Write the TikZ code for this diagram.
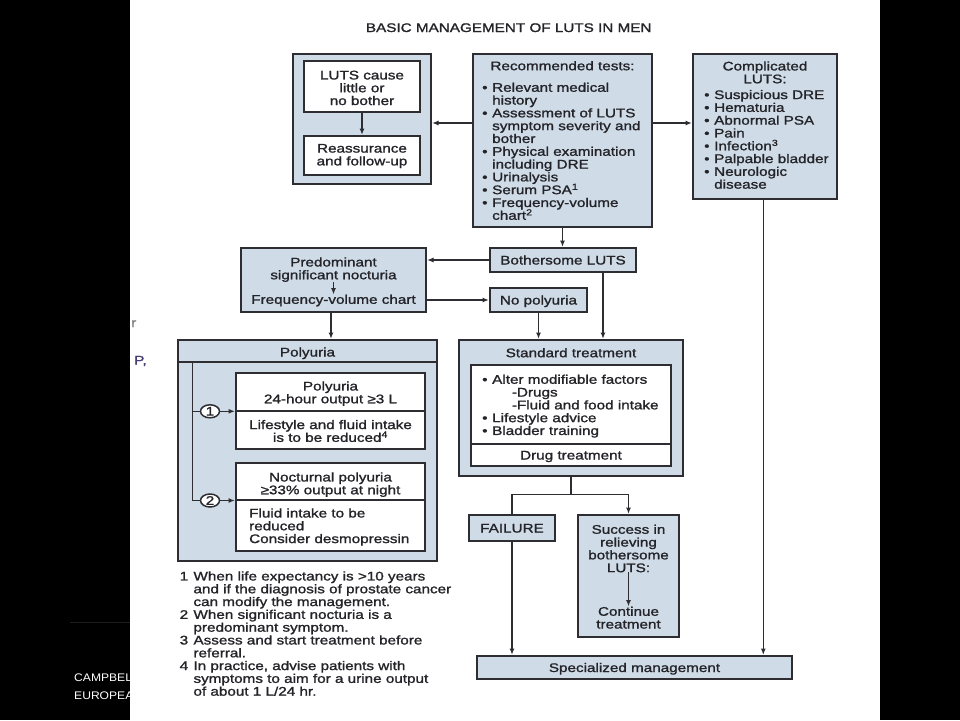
\documentclass[tikz,border=0pt]{standalone}
\usepackage{fontspec}
\setmainfont{Liberation Sans}[FakeStretch=1.22, FakeBold=1.3]
\newfontfamily\slidefont{Liberation Sans}[FakeStretch=1.1]
\usepackage{xcolor}
\usetikzlibrary{arrows.meta, positioning, shapes.geometric}
\definecolor{boxfill}{RGB}{207,220,232}
\definecolor{boxline}{RGB}{45,45,50}
\definecolor{ink}{RGB}{35,35,40}
\definecolor{fragc}{RGB}{72,62,118}
\newcommand{\fsz}{\fontsize{12.5}{12.8}\selectfont}
\newcommand{\bitem}{\makebox[10pt][l]{\textbullet}}
\newcommand{\bcont}{\hspace*{10pt}}
\newcommand{\fnum}[1]{\makebox[13.8pt][l]{#1}}
\newcommand{\supnum}[1]{\smash{\textsuperscript{#1}}}

\begin{document}
\begin{tikzpicture}[
    x=1pt, y=-1pt,
    panel/.style={draw=boxline, fill=boxfill, line width=2pt, inner sep=0pt},
    whitebox/.style={draw=boxline, fill=white, line width=2pt, inner sep=0pt},
    single/.style={panel, font=\fsz, text=ink, text height=9pt, text depth=0pt},
    txt/.style={font=\fsz, text=ink, align=center, inner sep=0pt},
    list/.style={font=\fsz, text=ink, align=left, inner sep=0pt, anchor=north west},
    num/.style={ellipse, draw=boxline, fill=white, line width=1.5pt, minimum width=19pt, minimum height=13pt, inner sep=0pt, font=\fsz, text=ink},
    line/.style={draw=boxline, line width=1.4pt, -{Latex[length=6.5pt, width=5pt]}},
    link/.style={draw=boxline, line width=1.4pt},
    divider/.style={draw=boxline, line width=2pt}
]

% Slide
\useasboundingbox (0,0) rectangle (960,720);
\fill[black] (0,0) rectangle (960,720);
\draw[gray!22!black, line width=1pt] (70,622) -- (130,622);
\node[font=\slidefont\fontsize{11}{17.7}\selectfont, text=white, align=left, anchor=north west, inner sep=0pt] (source) at (74,674) {CAMPBEL\\EUROPEA};
\fill[white] (130,0) rectangle (880,720);
\node[txt, text=gray, anchor=base west] (fragr) at (131,327) {r};
\node[txt, text=fragc, anchor=base west] (fragp) at (134,364.5) {P,};

\node[txt] (title) at (508.7,27.7) {BASIC MANAGEMENT OF LUTS IN MEN};

% Nodes
\node[panel, minimum width=138pt, minimum height=130pt] (lbox) at (362,119) {};
\node[whitebox, minimum width=116pt, minimum height=51pt] (little) at (362,86.5) {};
\node[txt, anchor=north] (littlet) at (362,70.5) {LUTS cause\\little or\\no bother};
\node[whitebox, minimum width=116pt, minimum height=39pt] (reassure) at (362,155.5) {};
\node[txt, anchor=north] (reassuret) at (362,143.8) {Reassurance\\and follow-up};

\node[panel, minimum width=179pt, minimum height=173pt] (tests) at (562.5,140.5) {};
\node[txt, anchor=base] (testst) at (562.5,70.2) {Recommended tests:};
\node[list] (testsl) at (482,82.5) {\bitem Relevant medical\\\bcont history\\\bitem Assessment of LUTS\\\bcont symptom severity and\\\bcont bother\\\bitem Physical examination\\\bcont including DRE\\\bitem Urinalysis\\\bitem Serum PSA\supnum{1}\\\bitem Frequency-volume\\\bcont chart\supnum{2}};

\node[panel, minimum width=144pt, minimum height=145pt] (compl) at (765,126.5) {};
\node[txt, anchor=north] (complt) at (765,61.2) {Complicated\\LUTS:};
\node[list] (compll) at (704,89.8) {\bitem Suspicious DRE\\\bitem Hematuria\\\bitem Abnormal PSA\\\bitem Pain\\\bitem Infection\supnum{3}\\\bitem Palpable bladder\\\bitem Neurologic\\\bcont disease};

\node[single, minimum width=146pt, minimum height=24pt] (bother) at (563,260) {Bothersome LUTS};
\node[single, minimum width=97pt, minimum height=24pt] (nopoly) at (538.5,300) {No polyuria};

\node[panel, minimum width=185pt, minimum height=64pt] (noct) at (333.5,280) {};
\node[txt, anchor=north] (nocta) at (333.5,257.2) {Predominant\\significant nocturia};
\node[txt, anchor=base] (noctb) at (333.5,303.8) {Frequency-volume chart};

\node[panel, minimum width=259pt, minimum height=221pt] (poly) at (307.5,450.5) {};
\node[txt, anchor=base] (polyt) at (307.5,356.5) {Polyuria};
\node[whitebox, minimum width=189pt, minimum height=76pt] (pone) at (330.5,411) {};
\node[txt, anchor=north] (ponea) at (330.5,381.2) {Polyuria\\24-hour output ≥3 L};
\node[txt, anchor=north] (poneb) at (330.5,419.8) {Lifestyle and fluid intake\\is to be reduced\supnum{4}};
\node[whitebox, minimum width=189pt, minimum height=88pt] (ptwo) at (330.5,507) {};
\node[txt, anchor=north] (ptwoa) at (330.5,472.2) {Nocturnal polyuria\\≥33\% output at night};
\node[list] (ptwob) at (249,508.2) {Fluid intake to be\\reduced\\Consider desmopressin};
\node[num] (numone) at (210,411.3) {1};
\node[num] (numtwo) at (210,500.5) {2};
\coordinate (trunk) at (192.7,363.3);

\node[panel, minimum width=224pt, minimum height=136pt] (std) at (571,408) {};
\node[txt, anchor=base] (stdt) at (571,357.2) {Standard treatment};
\node[whitebox, minimum width=200pt, minimum height=101pt] (stdin) at (571,415.5) {};
\node[list] (stdl) at (482,374.5) {\bitem Alter modifiable factors\\\hspace*{29.7pt}-Drugs\\\hspace*{29.7pt}-Fluid and food intake\\\bitem Lifestyle advice\\\bitem Bladder training};
\node[txt, anchor=base] (drug) at (571,459.5) {Drug treatment};

\node[single, minimum width=86pt, minimum height=26pt] (fail) at (512,528) {FAILURE};
\node[panel, minimum width=101pt, minimum height=122pt] (succ) at (628.5,576) {};
\node[txt, anchor=north] (succa) at (628.5,524.5) {Success in\\relieving\\bothersome\\LUTS:};
\node[txt, anchor=north] (succb) at (628.5,606.5) {Continue\\treatment};

\node[single, minimum width=315pt, minimum height=23pt] (spec) at (634.5,667.5) {Specialized management};

% Dividers
\draw[divider] ([yshift=-23.3pt]poly.north west) -- ([yshift=-23.3pt]poly.north east);
\draw[divider] (pone.west) -- (pone.east);
\draw[divider] ([yshift=-37.7pt]ptwo.north west) -- ([yshift=-37.7pt]ptwo.north east);
\draw[divider] ([yshift=22.7pt]stdin.south west) -- ([yshift=22.7pt]stdin.south east);

% Draw arrows
\coordinate (mid) at (0,123);
\draw[line] (little) -- (reassure);
\draw[line] (tests.west |- mid) -- (lbox.east |- mid);
\draw[line] (tests.east |- mid) -- (compl.west |- mid);
\draw[line] (tests.south) -- (tests.south |- bother.north);
\draw[line] (bother.west) -- (bother.west -| noct.east);
\draw[line] (noct.east |- nopoly.west) -- (nopoly.west);
\draw[line] (nocta.south) -- (noctb.north);
\draw[line] ([xshift=-2.5pt]noct.south) -- ([xshift=-2.5pt]noct.south |- poly.north);
\draw[line] (nopoly.south) -- (nopoly.south |- std.north);
\draw[line] ([xshift=40pt]bother.south) -- ([xshift=40pt]bother.south |- std.north);

% Polyuria branches
\draw[link] (trunk) |- (numtwo.west);
\draw[link] (trunk |- numone) -- (numone.west);
\draw[line] (numone.east) -- (numone.east -| pone.west);
\draw[line] (numtwo.east) -- (numtwo.east -| ptwo.west);

% Outcome
\coordinate (fork) at (571,494.3);
\draw[link] (std.south) -- (fork);
\draw[link] (fail.north |- fork) -- (succ.north |- fork);
\draw[link] (fail.north |- fork) -- (fail.north);
\draw[line] (succ.north |- fork) -- (succ.north);
\draw[line] (succa.south) -- (succb.north);
\draw[line] (fail.south) -- (fail.south |- spec.north);
\draw[line] ([xshift=-1.7pt]compl.south) -- ([xshift=-1.7pt]compl.south |- spec.north);

% Footnotes
\node[list] (notes) at (179.5,571.2) {\fnum{1}When life expectancy is >10 years\\\fnum{}and if the diagnosis of prostate cancer\\\fnum{}can modify the management.\\\fnum{2}When significant nocturia is a\\\fnum{}predominant symptom.\\\fnum{3}Assess and start treatment before\\\fnum{}referral.\\\fnum{4}In practice, advise patients with\\\fnum{}symptoms to aim for a urine output\\\fnum{}of about 1 L/24 hr.};

\end{tikzpicture}
\end{document}
